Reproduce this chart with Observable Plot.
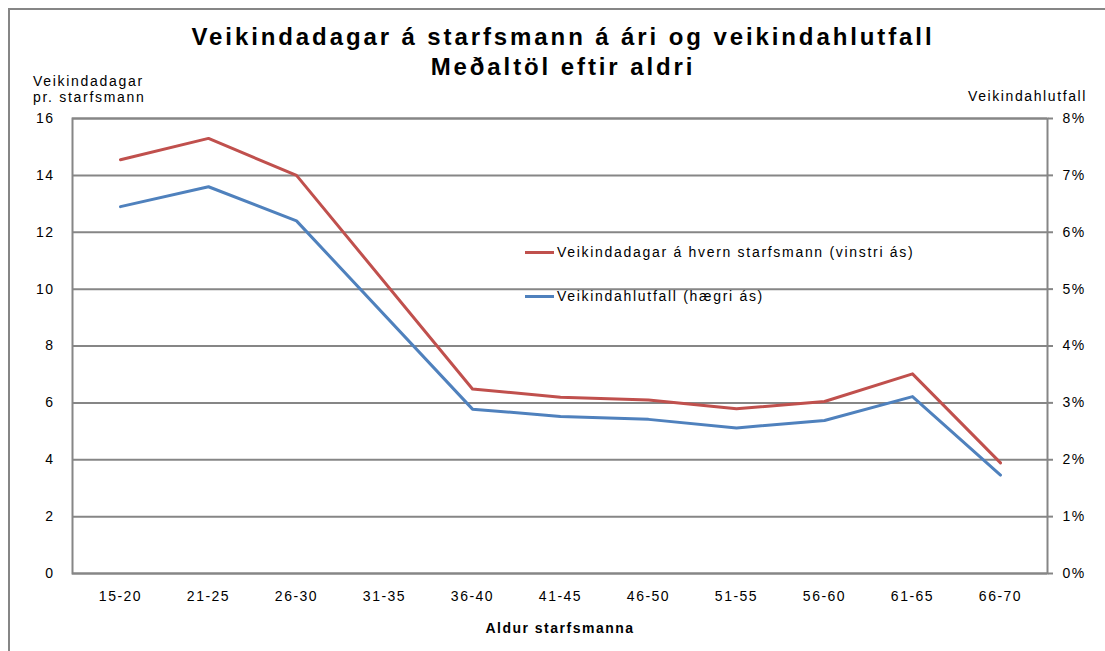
<!DOCTYPE html>
<html>
<head>
<meta charset="utf-8">
<script src="https://cdn.jsdelivr.net/npm/d3@7"></script>
<script src="https://cdn.jsdelivr.net/npm/@observablehq/plot@0.6"></script>
<style>
  html, body { margin: 0; padding: 0; background: #fff; }
  body { width: 1105px; height: 651px; overflow: hidden; position: relative; font-family: "Liberation Sans", Arial, sans-serif; color: #000; }
  #border { position: absolute; left: 8px; top: 8px; width: 1200px; height: 800px; border-left: 2px solid #868686; border-top: 2px solid #868686; }
  #chart { position: absolute; left: 0; top: 0; }
  #chart svg text { letter-spacing: 1.5px; }
  .t { position: absolute; white-space: nowrap; }
  #title { left: 0; width: 1126px; top: 22px; text-align: center; font-weight: bold; font-size: 24px; line-height: 30px; letter-spacing: 2.9px; }
  #ylab { left: 33px; top: 73px; font-size: 14px; line-height: 16px; letter-spacing: 1.7px; }
  #y2lab { left: 968px; top: 88px; font-size: 14px; line-height: 16px; letter-spacing: 1.6px; }
  #xlab { left: 0; width: 1120px; top: 620px; text-align: center; font-weight: bold; font-size: 14px; letter-spacing: 1.5px; }
  .leg { position: absolute; left: 525px; font-size: 14px; letter-spacing: 1.7px; display: flex; align-items: center; white-space: nowrap; }
  .leg span.sw { display: inline-block; width: 29px; height: 3px; margin-right: 3px; }
</style>
</head>
<body>
<div id="border"></div>
<div id="chart"></div>
<div class="t" id="title">Veikindadagar á starfsmann á ári og veikindahlutfall<br>Meðaltöl eftir aldri</div>
<div class="t" id="ylab">Veikindadagar<br>pr. starfsmann</div>
<div class="t" id="y2lab">Veikindahlutfall</div>
<div class="t" id="xlab">Aldur starfsmanna</div>
<div class="leg" id="leg1" style="top:244px"><span class="sw" style="background:#c0504d"></span>Veikindadagar á hvern starfsmann (vinstri ás)</div>
<div class="leg" id="leg2" style="top:288px"><span class="sw" style="background:#4f81bd"></span>Veikindahlutfall (hægri ás)</div>
<script>
// Data
const ages = ["15-20","21-25","26-30","31-35","36-40","41-45","46-50","51-55","56-60","61-65","66-70"];
const dagar = [14.55, 15.3, 14.0, null, 6.49, 6.2, 6.1, 5.79, 6.05, 7.02, 3.89];      // days per employee (left axis)
const hlutfall = [6.45, 6.8, 6.2, null, 2.89, 2.76, 2.71, 2.56, 2.69, 3.11, 1.73];    // sick-leave ratio % (right axis)
const leftTicks = [0, 2, 4, 6, 8, 10, 12, 14, 16];
const rightTickLabels = ["0%","1%","2%","3%","4%","5%","6%","7%","8%"];

const red = "#c0504d", blue = "#4f81bd", grid = "#868686";

const redData = ages.map((a, i) => ({age: a, v: dagar[i]})).filter(d => d.v != null);
// right axis: 8% == 16 on the left axis
const blueData = ages.map((a, i) => ({age: a, v: hlutfall[i] == null ? null : hlutfall[i] * 2})).filter(d => d.v != null);

const chart = Plot.plot({
  width: 1105,
  height: 651,
  marginTop: 118,
  marginBottom: 78,
  marginLeft: 72,
  marginRight: 58,
  style: {fontFamily: "'Liberation Sans', Arial, sans-serif", fontSize: "14px", color: "#000", background: "transparent"},
  x: {type: "point", domain: ages, padding: 0.5},
  y: {domain: [0, 16]},
  marks: [
    Plot.ruleY(leftTicks, {stroke: grid, strokeWidth: 2}),
    Plot.frame({stroke: grid, strokeWidth: 2}),
    Plot.axisX({tickSize: 0, tickPadding: 18, label: null, fontSize: 14}),
    Plot.axisY({anchor: "left", ticks: leftTicks, tickSize: 0, tickPadding: 18, label: null, fontSize: 14}),
    Plot.axisY({anchor: "right", ticks: leftTicks, tickSize: 5, tickPadding: 10, stroke: grid, strokeWidth: 2,
      tickFormat: d => rightTickLabels[leftTicks.indexOf(d)], label: null, fontSize: 14}),
    Plot.line(redData, {x: "age", y: "v", stroke: red, strokeWidth: 3}),
    Plot.line(blueData, {x: "age", y: "v", stroke: blue, strokeWidth: 3})
  ]
});
document.getElementById("chart").appendChild(chart);
</script>
</body>
</html>
